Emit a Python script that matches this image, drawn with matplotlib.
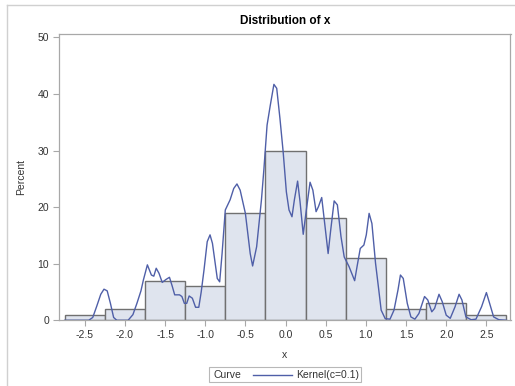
import matplotlib
matplotlib.use("Agg")
import matplotlib.pyplot as plt
from matplotlib.lines import Line2D
from matplotlib.patches import Rectangle

plt.rcParams['font.family'] = ['Liberation Sans', 'DejaVu Sans']

bin_centers = [-2.5, -2.0, -1.5, -1.0, -0.5, 0.0, 0.5, 1.0, 1.5, 2.0, 2.5]
bin_percent = [1, 2, 7, 6, 19, 30, 18, 11, 2, 3, 1]

curve_x = [-2.75, -2.45, -2.40, -2.35, -2.30, -2.26, -2.22, -2.18, -2.14, -2.10,
           -1.96, -1.90, -1.85, -1.80, -1.77, -1.72, -1.67, -1.64, -1.61, -1.575,
           -1.535, -1.49, -1.445, -1.41, -1.38, -1.32, -1.29, -1.26, -1.23, -1.20,
           -1.16, -1.12, -1.08, -1.05, -1.015, -0.975, -0.94, -0.91, -0.85, -0.82,
           -0.79, -0.75, -0.69, -0.645, -0.605, -0.565, -0.50, -0.44, -0.41, -0.36,
           -0.30, -0.27, -0.23, -0.19, -0.145, -0.11, -0.07, -0.03, 0.01, 0.043,
           0.08, 0.11, 0.15, 0.18, 0.22, 0.256, 0.305, 0.34, 0.38, 0.41,
           0.45, 0.48, 0.53, 0.56, 0.605, 0.645, 0.69, 0.73, 0.79, 0.86,
           0.89, 0.93, 0.975, 1.005, 1.04, 1.075, 1.12, 1.16, 1.19, 1.24,
           1.30, 1.35, 1.40, 1.43, 1.465, 1.515, 1.56, 1.61, 1.66, 1.73,
           1.77, 1.82, 1.855, 1.91, 1.95, 2.0, 2.05, 2.11, 2.16, 2.195,
           2.245, 2.31, 2.37, 2.44, 2.50, 2.54, 2.59, 2.655, 2.75]
curve_y = [0, 0, 0.5, 2.5, 4.6, 5.5, 5.2, 3.0, 0.5, 0,
           0, 1.0, 3.0, 5.2, 7.1, 9.8, 8.0, 7.8, 9.2, 8.3,
           6.7, 7.2, 7.6, 6.0, 4.5, 4.5, 4.2, 3.0, 3.0, 4.3,
           3.9, 2.3, 2.3, 5.0, 8.9, 13.9, 15.1, 13.6, 7.4, 6.8,
           11.8, 19.5, 21.3, 23.3, 24.1, 23.0, 18.9, 11.8, 9.6, 13.0,
           21.3, 26.6, 34.5, 38.0, 41.7, 41.0, 35.7, 29.8, 22.7, 19.5,
           18.3, 21.3, 24.6, 21.0, 15.2, 19.2, 24.4, 23.0, 19.2, 20.1,
           21.7, 18.0, 11.8, 15.7, 21.1, 20.4, 14.8, 11.2, 9.5, 7.0,
           9.5, 12.7, 13.3, 15.1, 18.9, 17.1, 10.1, 5.4, 1.8, 0.3,
           0.2, 1.8, 5.4, 8.0, 7.4, 3.0, 0.6, 0.2, 1.2, 4.2,
           3.6, 1.5, 2.1, 4.6, 3.3, 0.9, 0.35, 2.4, 4.6, 3.6,
           0.6, 0.1, 0.2, 2.4, 4.9, 3.0, 0.6, 0.1, 0]

x_ticks = [-2.5, -2.0, -1.5, -1.0, -0.5, 0.0, 0.5, 1.0, 1.5, 2.0, 2.5]
y_ticks = [0, 10, 20, 30, 40, 50]

W, H = 515, 386
fig = plt.figure(figsize=(W / 100, H / 100), dpi=100)
fig.patch.set_facecolor("white")

L, R, T, B = 59, 510.5, 34, 320.3
ax = fig.add_axes([L / W, 1 - B / H, (R - L) / W, (B - T) / H])

curve_color = "#4f5fa8"
ax.bar(bin_centers, bin_percent, width=0.5, color="#dfe4ee",
       edgecolor="#707070", linewidth=1.0, zorder=2)
ax.plot(curve_x, curve_y, color=curve_color, linewidth=1.0, zorder=3)

ax.set_xlim(-2.82, 2.80)
ax.set_ylim(0, 50.6)
ax.set_xticks(x_ticks)
ax.set_xticklabels([f"{v:.1f}" for v in x_ticks])
ax.set_yticks(y_ticks)

for sp in ax.spines.values():
    sp.set_color("#a8a8a8")
    sp.set_linewidth(0.9)
ax.tick_params(axis="both", colors="#a8a8a8", labelcolor="#333333",
               labelsize=7.5, length=4, width=0.8, pad=3)

ax.set_xlabel("x", fontsize=7.5, color="#333333", labelpad=7)
ax.set_ylabel("Percent", fontsize=7.5, color="#333333", labelpad=8)
ax.set_title("Distribution of x", fontsize=8.5, fontweight="bold",
             color="#000000", pad=7)

fig.add_artist(Line2D([6.5 / W, 6.5 / W], [0, 1 - 5 / H], transform=fig.transFigure,
                      color="#d0d0d0", linewidth=1))
fig.add_artist(Line2D([6.5 / W, 1], [1 - 5 / H, 1 - 5 / H], transform=fig.transFigure,
                      color="#d0d0d0", linewidth=1))

lx0, lx1, ly0, ly1 = 208.5, 360.5, 367, 382
fig.add_artist(Rectangle((lx0 / W, 1 - ly1 / H), (lx1 - lx0) / W, (ly1 - ly0) / H,
                         transform=fig.transFigure, facecolor="white",
                         edgecolor="#b8b8b8", linewidth=0.8))
ymid = 1 - (ly0 + ly1) / 2 / H
fig.text(214 / W, ymid, "Curve", fontsize=7.5, color="#333333", va="center", ha="left")
fig.add_artist(Line2D([253 / W, 292 / W], [ymid, ymid], transform=fig.transFigure,
                      color=curve_color, linewidth=1.0))
fig.text(296 / W, ymid, "Kernel(c=0.1)", fontsize=7.5, color="#333333",
         va="center", ha="left")

fig.savefig("out.png", dpi=100)
